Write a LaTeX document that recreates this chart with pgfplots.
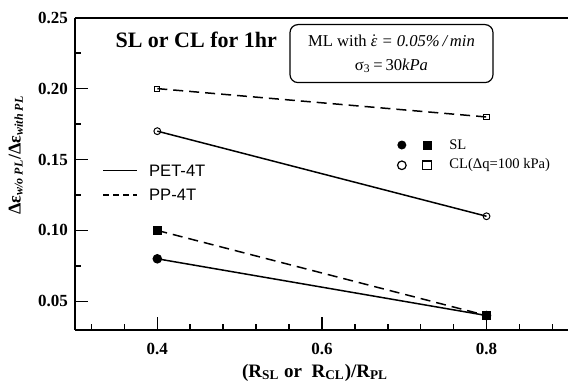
\documentclass[border=0pt]{standalone}
\usepackage{pgfplots}
\pgfplotsset{compat=1.18}
\usepackage{fontspec}
\setmainfont{Liberation Serif}
\newfontfamily\arial{Liberation Sans}
\begin{document}
\begin{tikzpicture}
\useasboundingbox (-37.5pt,-26.5pt) rectangle (246.5pt,164.85pt);
\begin{axis}[
  scale only axis, width=246.5pt, height=156pt,
  xmin=0.3, xmax=0.899, ymin=0.03, ymax=0.25,
  axis lines=left, axis line style={-, line width=1pt},
  tick align=inside, major tick length=6.5pt, minor tick length=3pt,
  tick style={line width=0.8pt, black},
  xtick={0.4,0.6,0.8}, minor xtick={0.32,0.36,0.44,0.48,0.52,0.56,0.64,0.68,0.72,0.76,0.84,0.88},
  ytick={0.05,0.10,0.15,0.20,0.25}, minor ytick={0.075,0.125,0.175,0.225},
  /pgf/number format/assume math mode=true,
  xticklabel style={/pgf/number format/.cd, fixed, fixed zerofill, precision=1, /tikz/.cd, font=\bfseries\fontsize{8.5}{10}\selectfont, yshift=-3pt},
  yticklabel style={/pgf/number format/.cd, fixed, fixed zerofill, precision=2, /tikz/.cd, font=\bfseries\fontsize{8.5}{10}\selectfont},
  clip=false,
]
\draw[line width=1pt] (rel axis cs:0,1) -- (rel axis cs:1,1);
% PET-4T SL
\addplot[black, line width=0.75pt, mark=*, mark size=2pt] coordinates {(0.4,0.08) (0.8,0.04)};
% PP-4T SL
\addplot[black, line width=0.75pt, dash pattern=on 5pt off 3pt, mark=square*, mark size=2pt, mark options={solid}] coordinates {(0.4,0.10) (0.8,0.04)};
% PET-4T CL
\addplot[black, line width=0.75pt, mark=o, mark size=1.7pt, mark options={fill=white, line width=0.5pt}] coordinates {(0.4,0.17) (0.8,0.11)};
% PP-4T CL
\addplot[black, line width=0.75pt, dash pattern=on 5pt off 3pt, mark=square, mark size=1.3pt, mark options={solid, fill=white, line width=0.5pt}] coordinates {(0.4,0.20) (0.8,0.18)};

\node[anchor=west, font=\bfseries\fontsize{11}{13}\selectfont] at (rel axis cs:0.068,0.928) {SL or CL for 1hr};
\node[draw, line width=0.6pt, rounded corners=4pt, minimum width=101.5pt, minimum height=29pt, align=center, font=\fontsize{8.3}{12}\selectfont] at (rel axis cs:0.642,0.885)
  {ML with $\dot{\mbox{\itshape ε}}$ \textit{= 0.05\%\,/\,min}\\ σ\textsubscript{3}\,=\,30\textit{kPa}};

\draw[line width=0.6pt] (rel axis cs:0.057,0.509) -- (rel axis cs:0.126,0.509);
\node[anchor=west, font=\arial\fontsize{8.3}{9}\selectfont] at (rel axis cs:0.136,0.509) {PET-4T};
\draw[line width=0.6pt, dash pattern=on 3pt off 2pt] (rel axis cs:0.057,0.432) -- (rel axis cs:0.126,0.432);
\node[anchor=west, font=\arial\fontsize{8.3}{9}\selectfont] at (rel axis cs:0.136,0.432) {PP-4T};

\node[circle, fill=black, inner sep=0pt, minimum size=4.5pt] at (rel axis cs:0.663,0.592) {};
\node[fill=black, inner sep=0pt, minimum size=4.5pt] at (rel axis cs:0.714,0.592) {};
\node[anchor=west, font=\fontsize{7.3}{9}\selectfont] at (rel axis cs:0.745,0.592) {SL};
\node[circle, draw=black, line width=0.6pt, inner sep=0pt, minimum size=4.3pt] at (rel axis cs:0.663,0.527) {};
\node[draw=black, line width=0.6pt, inner sep=0pt, minimum size=4.3pt] at (rel axis cs:0.714,0.527) {};
\node[anchor=west, font=\fontsize{7.3}{9}\selectfont] at (rel axis cs:0.745,0.527) {CL(Δq=100 kPa)};

\node[rotate=90, font=\bfseries\fontsize{9}{10}\selectfont] at (rel axis cs:-0.12,0.56)
  {Δε\textsubscript{\itshape w/o PL}/Δε\textsubscript{\itshape with PL}};
\node[font=\bfseries\fontsize{9.5}{11}\selectfont] at (rel axis cs:0.487,-0.138)
  {(R\textsubscript{SL} or\ \ R\textsubscript{CL})/R\textsubscript{PL}};
\end{axis}
\end{tikzpicture}
\end{document}
